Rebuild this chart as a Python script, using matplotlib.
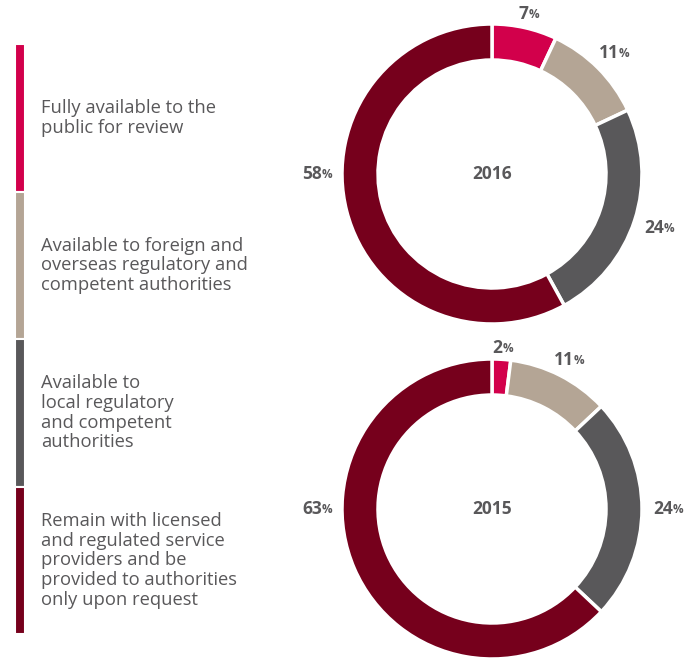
import numpy as np
import matplotlib
matplotlib.use("Agg")
import matplotlib.pyplot as plt

plt.rcParams['font.family'] = ['Open Sans', 'DejaVu Sans']

categories = [
    "Fully available to the\npublic for review",
    "Available to foreign and\noverseas regulatory and\ncompetent authorities",
    "Available to\nlocal regulatory\nand competent\nauthorities",
    "Remain with licensed\nand regulated service\nproviders and be\nprovided to authorities\nonly upon request",
]
colors = ["#D2004B", "#B4A595", "#59585A", "#76001C"]
years = ["2016", "2015"]
values_2016 = [7, 11, 24, 58]
values_2015 = [2, 11, 24, 63]
text_col = "#59585A"

W, H = 697, 660
fig = plt.figure(figsize=(W / 100, H / 100), dpi=100)

# legend bar on the left
lax = fig.add_axes([15 / W, 1 - 634 / H, 10 / W, 590 / H])
n = len(categories)
for i, (c, lab) in enumerate(zip(colors, categories)):
    lax.bar(0, 1, bottom=n - 1 - i, width=1, color=c, edgecolor="white", linewidth=1.5)
    fig.text(41 / W, (1 - 44 / H) - (i + 0.5) * (590 / H) / n, lab,
             ha="left", va="center", fontsize=13.2, color=text_col, linespacing=1.12)
lax.set_xlim(-0.5, 0.5)
lax.set_ylim(0, n)
lax.axis("off")


def donut(cy, vals, year):
    R = 150
    half = 200
    ax = fig.add_axes([(492 - half) / W, (H - cy - half) / H, 2 * half / W, 2 * half / H])
    ax.pie(vals, colors=colors, startangle=90, counterclock=False, radius=1,
           wedgeprops=dict(width=0.24, edgecolor="white", linewidth=2.5))
    ax.set_xlim(-half / R, half / R)
    ax.set_ylim(-half / R, half / R)
    ax.set_aspect("equal")
    ax.axis("off")
    ax.text(0, 0, year, ha="center", va="center", fontsize=12.5, fontweight="bold", color=text_col)
    cum = np.cumsum([0] + vals)
    biggest = int(np.argmax(vals))
    for i, v in enumerate(vals):
        mid = (cum[i] + cum[i + 1]) / 2 / 100 * 2 * np.pi
        if i == biggest:
            # big wedge: label sits level with the ring's side
            mid = 1.5 * np.pi
        sx, cx = np.sin(mid), np.cos(mid)
        r = 1.07 + 0.1 * abs(sx)
        x, y = r * sx, r * cx
        t = ax.text(x - 0.03, y, str(v), ha="center", va="center", fontsize=12.5,
                    fontweight="bold", color=text_col)
        ax.annotate("%", xy=(1, 0.1), xycoords=t, ha="left", va="bottom",
                    fontsize=8.5, fontweight="bold", color=text_col)


donut(174, values_2016, years[0])
donut(509, values_2015, years[1])

fig.savefig("out.png", dpi=100, facecolor="white")
